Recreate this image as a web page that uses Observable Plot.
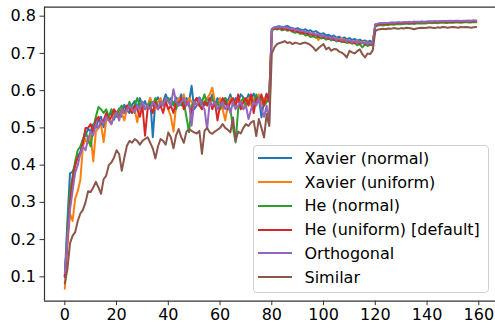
<!DOCTYPE html>
<html>
<head>
<meta charset="utf-8">
<script src="https://cdn.jsdelivr.net/npm/d3@7"></script>
<script src="https://cdn.jsdelivr.net/npm/@observablehq/plot@0.6"></script>
<style>
  html, body { margin: 0; padding: 0; background: #fff; }
  #wrap { position: relative; width: 495px; height: 325px; overflow: hidden; font-family: "DejaVu Sans", sans-serif; }
  #legend { position: absolute; box-sizing: border-box; background: rgba(255,255,255,0.8); border: 1px solid #d0d0d0; border-radius: 4px; }
  .row { position: absolute; left: 0; display: flex; align-items: center; height: 20px; }
  .row span { font-size: 16px; color: #000; white-space: nowrap; }
</style>
</head>
<body>
<div id="wrap"></div>
<script>
const seriesNames = ["Xavier (normal)", "Xavier (uniform)", "He (normal)", "He (uniform) [default]", "Orthogonal", "Similar"];
const seriesColors = ["#1f77b4", "#ff7f0e", "#2ca02c", "#d62728", "#9467bd", "#8c564b"];
const xTicks = [0, 20, 40, 60, 80, 100, 120, 140, 160];
const yTicks = [0.1, 0.2, 0.3, 0.4, 0.5, 0.6, 0.7, 0.8];

const xavierNormal = [
0.100,0.250,0.378,0.382,0.400,0.425,0.435,0.468,0.480,0.498,
0.490,0.510,0.500,0.522,0.530,0.502,0.520,0.532,0.540,0.522,
0.540,0.552,0.530,0.562,0.548,0.540,0.562,0.572,0.552,0.580,
0.560,0.572,0.552,0.580,0.475,0.572,0.582,0.560,0.570,0.590,
0.572,0.580,0.560,0.582,0.570,0.590,0.560,0.580,0.570,0.613,
0.550,0.560,0.582,0.570,0.560,0.580,0.572,0.590,0.560,0.580,
0.570,0.550,0.580,0.572,0.590,0.560,0.580,0.570,0.590,0.582,
0.572,0.590,0.580,0.592,0.570,0.580,0.528,0.572,0.592,0.580,
0.765,0.770,0.772,0.773,0.770,0.772,0.774,0.770,0.768,0.766,
0.768,0.764,0.762,0.765,0.760,0.762,0.757,0.760,0.755,0.752,
0.754,0.748,0.750,0.745,0.748,0.742,0.745,0.740,0.743,0.738,
0.741,0.736,0.739,0.734,0.737,0.733,0.735,0.731,0.734,0.730,
0.778,0.780,0.781,0.780,0.782,0.781,0.782,0.783,0.782,0.783,
0.782,0.784,0.783,0.784,0.783,0.785,0.784,0.784,0.785,0.784,
0.785,0.786,0.785,0.786,0.785,0.786,0.786,0.787,0.786,0.786,
0.787,0.786,0.787,0.787,0.786,0.787,0.788,0.787,0.787,0.788];

const xavierUniform = [
0.068,0.180,0.270,0.250,0.310,0.330,0.360,0.450,0.470,0.460,
0.480,0.410,0.490,0.500,0.510,0.462,0.520,0.530,0.510,0.540,
0.530,0.550,0.540,0.520,0.550,0.560,0.540,0.550,0.515,0.560,
0.570,0.550,0.560,0.580,0.560,0.550,0.570,0.580,0.560,0.570,
0.550,0.530,0.490,0.560,0.580,0.570,0.590,0.560,0.580,0.570,
0.560,0.580,0.570,0.550,0.570,0.580,0.590,0.608,0.570,0.560,
0.580,0.550,0.520,0.560,0.580,0.570,0.560,0.580,0.570,0.550,
0.570,0.580,0.560,0.580,0.570,0.590,0.560,0.580,0.570,0.590,
0.762,0.768,0.770,0.768,0.766,0.769,0.764,0.766,0.761,0.763,
0.760,0.756,0.758,0.753,0.755,0.750,0.745,0.752,0.736,0.748,
0.746,0.742,0.744,0.740,0.737,0.741,0.736,0.742,0.733,0.736,
0.731,0.734,0.729,0.733,0.728,0.731,0.727,0.730,0.726,0.728,
0.774,0.777,0.778,0.777,0.779,0.778,0.780,0.779,0.780,0.781,
0.780,0.781,0.782,0.781,0.782,0.781,0.783,0.782,0.783,0.782,
0.783,0.784,0.783,0.784,0.783,0.784,0.785,0.784,0.784,0.785,
0.784,0.785,0.785,0.784,0.785,0.786,0.785,0.785,0.786,0.785];

const heNormal = [
0.100,0.220,0.330,0.370,0.410,0.440,0.450,0.470,0.490,0.470,
0.450,0.500,0.530,0.556,0.550,0.540,0.550,0.530,0.550,0.540,
0.530,0.550,0.560,0.540,0.550,0.570,0.550,0.560,0.580,0.560,
0.570,0.550,0.560,0.570,0.560,0.580,0.550,0.570,0.560,0.570,
0.580,0.560,0.570,0.550,0.570,0.560,0.570,0.530,0.488,0.560,
0.570,0.580,0.560,0.570,0.590,0.560,0.570,0.580,0.560,0.570,
0.550,0.570,0.580,0.560,0.550,0.500,0.461,0.550,0.570,0.580,
0.560,0.570,0.580,0.560,0.590,0.570,0.580,0.560,0.570,0.580,
0.760,0.766,0.764,0.766,0.762,0.765,0.761,0.763,0.758,0.755,
0.758,0.752,0.754,0.748,0.750,0.744,0.747,0.742,0.745,0.740,
0.742,0.737,0.740,0.735,0.738,0.732,0.736,0.730,0.733,0.728,
0.731,0.726,0.729,0.722,0.725,0.716,0.724,0.720,0.723,0.721,
0.772,0.775,0.776,0.775,0.777,0.776,0.778,0.777,0.778,0.779,
0.778,0.779,0.780,0.779,0.780,0.779,0.781,0.780,0.781,0.780,
0.781,0.782,0.781,0.782,0.781,0.782,0.783,0.782,0.782,0.783,
0.782,0.783,0.783,0.782,0.783,0.784,0.783,0.783,0.784,0.784];

const heUniform = [
0.100,0.200,0.300,0.360,0.400,0.420,0.430,0.460,0.500,0.500,
0.510,0.490,0.520,0.530,0.510,0.520,0.540,0.520,0.530,0.550,
0.540,0.530,0.550,0.540,0.560,0.550,0.540,0.560,0.550,0.530,
0.560,0.479,0.550,0.560,0.540,0.570,0.550,0.560,0.540,0.570,
0.550,0.560,0.540,0.570,0.560,0.580,0.550,0.570,0.560,0.540,
0.570,0.580,0.560,0.550,0.570,0.560,0.580,0.550,0.570,0.520,
0.560,0.580,0.570,0.550,0.570,0.580,0.560,0.590,0.550,0.570,
0.580,0.560,0.590,0.540,0.580,0.570,0.590,0.560,0.590,0.570,
0.764,0.768,0.766,0.769,0.765,0.767,0.763,0.765,0.760,0.762,
0.757,0.759,0.754,0.756,0.751,0.753,0.748,0.750,0.745,0.747,
0.742,0.744,0.739,0.741,0.736,0.738,0.733,0.736,0.731,0.734,
0.729,0.732,0.727,0.730,0.726,0.729,0.725,0.727,0.724,0.726,
0.775,0.778,0.779,0.778,0.780,0.779,0.781,0.780,0.781,0.782,
0.781,0.782,0.783,0.782,0.783,0.782,0.784,0.783,0.784,0.783,
0.784,0.785,0.784,0.785,0.784,0.785,0.786,0.785,0.785,0.786,
0.785,0.786,0.786,0.785,0.786,0.787,0.786,0.786,0.787,0.786];

const orthogonal = [
0.110,0.200,0.280,0.330,0.380,0.400,0.430,0.450,0.440,0.470,
0.490,0.480,0.510,0.500,0.520,0.510,0.530,0.520,0.510,0.530,
0.540,0.520,0.550,0.540,0.550,0.560,0.550,0.540,0.560,0.550,
0.570,0.550,0.560,0.550,0.570,0.560,0.550,0.570,0.560,0.580,
0.570,0.560,0.604,0.570,0.560,0.570,0.580,0.560,0.570,0.506,
0.570,0.560,0.580,0.560,0.550,0.497,0.570,0.560,0.570,0.550,
0.560,0.570,0.550,0.560,0.540,0.570,0.550,0.560,0.570,0.550,
0.560,0.524,0.550,0.570,0.560,0.580,0.550,0.530,0.560,0.510,
0.766,0.770,0.771,0.769,0.772,0.768,0.770,0.766,0.767,0.763,
0.764,0.760,0.761,0.757,0.758,0.753,0.755,0.750,0.752,0.746,
0.748,0.743,0.745,0.740,0.742,0.737,0.739,0.735,0.737,0.733,
0.735,0.731,0.733,0.729,0.731,0.727,0.729,0.726,0.728,0.725,
0.778,0.780,0.781,0.781,0.782,0.782,0.783,0.782,0.783,0.784,
0.783,0.784,0.784,0.785,0.784,0.785,0.785,0.785,0.786,0.785,
0.786,0.786,0.786,0.787,0.786,0.787,0.787,0.787,0.787,0.788,
0.787,0.788,0.788,0.787,0.788,0.788,0.788,0.788,0.789,0.788];

const similar = [
0.082,0.120,0.190,0.210,0.220,0.250,0.270,0.280,0.300,0.330,
0.328,0.340,0.355,0.340,0.323,0.362,0.372,0.400,0.407,0.420,
0.440,0.430,0.385,0.420,0.452,0.465,0.460,0.470,0.465,0.455,
0.465,0.470,0.475,0.460,0.445,0.418,0.450,0.470,0.465,0.455,
0.488,0.475,0.445,0.480,0.497,0.475,0.460,0.490,0.497,0.492,
0.488,0.485,0.492,0.430,0.492,0.500,0.488,0.484,0.490,0.495,
0.500,0.510,0.500,0.495,0.488,0.528,0.465,0.490,0.485,0.500,
0.510,0.505,0.515,0.519,0.478,0.524,0.500,0.474,0.537,0.505,
0.700,0.716,0.725,0.728,0.730,0.733,0.728,0.730,0.725,0.729,
0.727,0.725,0.728,0.729,0.726,0.722,0.716,0.707,0.714,0.720,
0.725,0.711,0.716,0.707,0.712,0.711,0.705,0.702,0.697,0.689,
0.707,0.703,0.700,0.706,0.711,0.698,0.689,0.700,0.698,0.708,
0.760,0.764,0.765,0.766,0.765,0.767,0.766,0.768,0.767,0.766,
0.768,0.767,0.769,0.768,0.767,0.765,0.767,0.768,0.769,0.768,
0.769,0.770,0.769,0.768,0.770,0.769,0.771,0.770,0.769,0.770,
0.771,0.770,0.769,0.771,0.770,0.771,0.770,0.769,0.770,0.771];

const allSeries = [xavierNormal, xavierUniform, heNormal, heUniform, orthogonal, similar];
const rows = [];
allSeries.forEach((vals, s) => vals.forEach((v, i) => rows.push({epoch: i, value: v, series: seriesNames[s]})));

const xDomain = [-7.85, 166.45];
const yDomain = [0.0346, 0.8241];

const chart = Plot.plot({
  width: 495,
  height: 325,
  marginLeft: 44,
  marginRight: 0,
  marginTop: 6.7,
  marginBottom: 24.3,
  style: {fontFamily: "DejaVu Sans, sans-serif", fontSize: "16px", color: "#000", background: "#fff"},
  x: {domain: xDomain, label: null},
  y: {domain: yDomain, label: null},
  color: {domain: seriesNames, range: seriesColors},
  marks: [
    Plot.line(rows, {x: "epoch", y: "value", z: "series", stroke: "series", strokeWidth: 2, strokeLinejoin: "round"}),
    Plot.axisX({ticks: xTicks, tickSize: 4.5, tickPadding: 3, tickFormat: d3.format("d"), stroke: "#333", fontSize: 16}),
    Plot.axisY({ticks: yTicks, tickSize: 4.5, tickPadding: 4, tickFormat: d3.format(".1f"), stroke: "#333", fontSize: 16}),
    Plot.ruleX([xDomain[0]], {stroke: "#333", strokeWidth: 1.2}),
    Plot.ruleY([yDomain[0], yDomain[1]], {stroke: "#333", strokeWidth: 1.2})
  ]
});
const wrap = document.getElementById("wrap");
wrap.appendChild(chart);

// legend (matplotlib-style box, lower right inside axes)
const legend = document.createElement("div");
legend.id = "legend";
legend.style.left = "252.5px";
legend.style.top = "145px";
legend.style.width = "236px";
legend.style.height = "148px";
seriesNames.forEach((name, i) => {
  const row = document.createElement("div");
  row.className = "row";
  row.style.top = (2.3 + i * 23.75) + "px";
  row.style.left = "4.5px";
  const sw = document.createElementNS("http://www.w3.org/2000/svg", "svg");
  sw.setAttribute("width", "34");
  sw.setAttribute("height", "20");
  sw.style.marginRight = "12.5px";
  const ln = document.createElementNS("http://www.w3.org/2000/svg", "line");
  ln.setAttribute("x1", 0); ln.setAttribute("x2", 34);
  ln.setAttribute("y1", 10); ln.setAttribute("y2", 10);
  ln.setAttribute("stroke", seriesColors[i]);
  ln.setAttribute("stroke-width", 2);
  sw.appendChild(ln);
  const t = document.createElement("span");
  t.textContent = name;
  row.appendChild(sw);
  row.appendChild(t);
  legend.appendChild(row);
});
wrap.appendChild(legend);
</script>
</body>
</html>
